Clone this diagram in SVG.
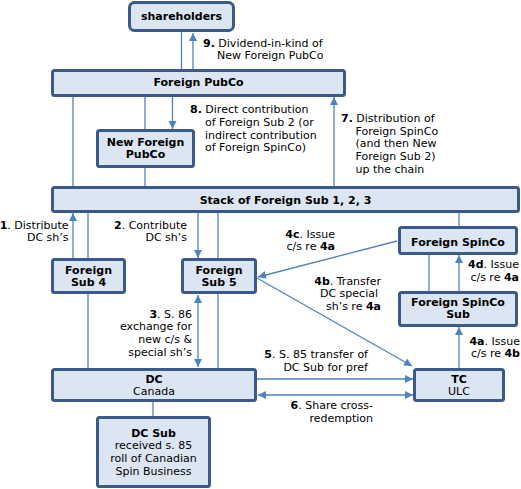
<svg xmlns="http://www.w3.org/2000/svg" width="521" height="489" viewBox="0 0 521 489">
<style>
.box{fill:#dce6f2;stroke:#3b5a8a;stroke-width:3}
.c{stroke:#4f81bd;stroke-width:1.3;fill:none}
.a{marker-end:url(#ah)}
.d{marker-start:url(#ah);marker-end:url(#ah)}
text{font-family:"DejaVu Sans",Verdana,sans-serif;font-size:11px;fill:#000}
.n{text-anchor:middle;font-weight:bold}
.m{text-anchor:middle}
.e{text-anchor:end}
.b{font-weight:bold}
</style>
<defs>
<marker id="ah" markerUnits="userSpaceOnUse" markerWidth="9" markerHeight="9" refX="8" refY="4.5" orient="auto-start-reverse" viewBox="0 0 9 9">
<path d="M0,0.5 L8,4.5 L0,8.5 z" fill="#4f81bd"/>
</marker>
</defs>
<g id="connectors">
<line class="c" x1="181.5" y1="32" x2="181.5" y2="69"/>
<line class="c a" x1="193" y1="69" x2="193" y2="33"/>
<line class="c" x1="73" y1="97" x2="73" y2="186"/>
<line class="c" x1="145" y1="97" x2="145" y2="129"/>
<line class="c" x1="145" y1="168" x2="145" y2="186"/>
<line class="c a" x1="172.5" y1="97" x2="172.5" y2="129"/>
<line class="c a" x1="334" y1="186" x2="334" y2="97"/>
<line class="c a" x1="73" y1="258" x2="73" y2="213"/>
<line class="c" x1="88" y1="213" x2="88" y2="258"/>
<line class="c" x1="88" y1="294" x2="88" y2="368"/>
<line class="c a" x1="198" y1="213" x2="198" y2="258"/>
<line class="c" x1="218" y1="213" x2="218" y2="258"/>
<line class="c" x1="218" y1="294" x2="218" y2="368"/>
<line class="c d" x1="198" y1="295" x2="198" y2="367"/>
<line class="c" x1="459" y1="213" x2="459" y2="226"/>
<line class="c a" x1="397" y1="241" x2="258" y2="277"/>
<line class="c a" x1="257" y1="278" x2="412" y2="366"/>
<line class="c" x1="429" y1="255" x2="429" y2="291"/>
<line class="c a" x1="459" y1="291" x2="459" y2="255"/>
<line class="c a" x1="459" y1="368" x2="459" y2="327"/>
<line class="c a" x1="257" y1="379" x2="413" y2="379"/>
<line class="c d" x1="258" y1="395" x2="413" y2="395"/>
<line class="c" x1="153" y1="402" x2="153" y2="416"/>
</g>
<g id="shareholders">
<rect class="box" x="129.5" y="2.5" width="104" height="28" rx="5"/>
<text class="n" x="181.5" y="20">shareholders</text>
</g>
<g id="foreign-pubco">
<rect class="box" x="52.5" y="70.5" width="292" height="25" rx="2"/>
<text class="n" x="198.5" y="86">Foreign PubCo</text>
</g>
<g id="new-foreign-pubco">
<rect class="box" x="97.5" y="130.5" width="96" height="36" rx="2"/>
<text class="n" x="145.5" y="146">New Foreign</text>
<text class="n" x="145.5" y="158">PubCo</text>
</g>
<g id="stack">
<rect class="box" x="52.5" y="187.5" width="466" height="24" rx="2"/>
<text class="n" x="285.5" y="204">Stack of Foreign Sub 1, 2, 3</text>
</g>
<g id="foreign-sub-4">
<rect class="box" x="52.5" y="259.5" width="72" height="33" rx="2"/>
<text class="n" x="88.5" y="274">Foreign</text>
<text class="n" x="88.5" y="286">Sub 4</text>
</g>
<g id="foreign-sub-5">
<rect class="box" x="182.5" y="259.5" width="73" height="33" rx="2"/>
<text class="n" x="219" y="274">Foreign</text>
<text class="n" x="219" y="286">Sub 5</text>
</g>
<g id="foreign-spinco">
<rect class="box" x="399.5" y="227.5" width="117" height="26" rx="2"/>
<text class="n" x="458" y="246">Foreign SpinCo</text>
</g>
<g id="foreign-spinco-sub">
<rect class="box" x="399.5" y="292.5" width="117" height="33" rx="2"/>
<text class="n" x="458" y="306">Foreign SpinCo</text>
<text class="n" x="458" y="318">Sub</text>
</g>
<g id="dc">
<rect class="box" x="52.5" y="369.5" width="203" height="31" rx="2"/>
<text class="n" x="154" y="383">DC</text>
<text class="m" x="154" y="395">Canada</text>
</g>
<g id="tc">
<rect class="box" x="414.5" y="369.5" width="89" height="31" rx="2"/>
<text class="n" x="459" y="383">TC</text>
<text class="m" x="459" y="395">ULC</text>
</g>
<g id="dc-sub">
<rect class="box" x="97.5" y="417.5" width="112" height="69" rx="2"/>
<text class="n" x="153.5" y="437">DC Sub</text>
<text class="m" x="153.5" y="449">received s. 85</text>
<text class="m" x="153.5" y="462">roll of Canadian</text>
<text class="m" x="153.5" y="475">Spin Business</text>
</g>
<g id="labels">
<text x="203" y="47"><tspan class="b">9.</tspan> Dividend-in-kind of</text>
<text x="217" y="59">New Foreign PubCo</text>
<text x="190" y="113"><tspan class="b">8.</tspan> Direct contribution</text>
<text x="205" y="126">of Foreign Sub 2 (or</text>
<text x="205" y="139">indirect contribution</text>
<text x="205" y="151">of Foreign SpinCo)</text>
<text x="341" y="122"><tspan class="b">7.</tspan> Distribution of</text>
<text x="355.5" y="135">Foreign SpinCo</text>
<text x="355.5" y="147">(and then New</text>
<text x="355.5" y="160">Foreign Sub 2)</text>
<text x="355.5" y="173">up the chain</text>
<text class="e" x="68.5" y="229"><tspan class="b">1</tspan>. Distribute</text>
<text class="e" x="68.5" y="241">DC sh’s</text>
<text class="e" x="187" y="229"><tspan class="b">2</tspan>. Contribute</text>
<text class="e" x="187" y="241">DC sh’s</text>
<text class="e" x="192" y="318"><tspan class="b">3</tspan>. S. 86</text>
<text class="e" x="192" y="330">exchange for</text>
<text class="e" x="192" y="343">new c/s &amp;</text>
<text class="e" x="192" y="356">special sh’s</text>
<text class="e" x="335" y="238"><tspan class="b">4c</tspan>. Issue</text>
<text class="e" x="335" y="250">c/s re <tspan class="b">4a</tspan></text>
<text class="e" x="381" y="285"><tspan class="b">4b</tspan>. Transfer</text>
<text class="e" x="378" y="297">DC special</text>
<text class="e" x="381" y="310">sh’s re <tspan class="b">4a</tspan></text>
<text class="e" x="519" y="268"><tspan class="b">4d</tspan>. Issue</text>
<text class="e" x="519" y="281">c/s re <tspan class="b">4a</tspan></text>
<text class="e" x="520" y="345"><tspan class="b">4a</tspan>. Issue</text>
<text class="e" x="520" y="357">c/s re <tspan class="b">4b</tspan></text>
<text class="e" x="368" y="358"><tspan class="b">5</tspan>. S. 85 transfer of</text>
<text class="e" x="368" y="371">DC Sub for pref</text>
<text class="e" x="373" y="409"><tspan class="b">6</tspan>. Share cross-</text>
<text class="e" x="373" y="421.5">redemption</text>
</g>
</svg>
